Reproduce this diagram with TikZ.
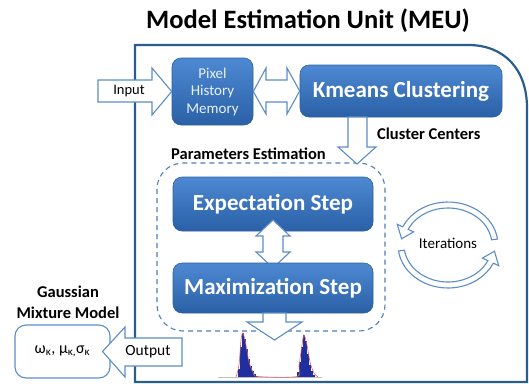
\documentclass[tikz,border=0pt]{standalone}
\usepackage{fontspec}
\setmainfont{Carlito}
\usetikzlibrary{calc}
\definecolor{frameblue}{HTML}{2B5C8E}
\definecolor{boxtop}{HTML}{4D89D2}
\definecolor{boxbot}{HTML}{2A60A6}
\definecolor{boxedge}{HTML}{2E5F9C}
\definecolor{arrowedge}{HTML}{5B8DC9}
\definecolor{dashblue}{HTML}{4D7FB8}
\definecolor{histblue}{HTML}{1E2FA0}
\definecolor{histred}{HTML}{E06070}
\begin{document}
\begin{tikzpicture}[x=1pt,y=-1pt,
  bluebox/.style={draw=boxedge, line width=0.6pt, rounded corners=9pt, top color=boxtop, bottom color=boxbot, text=white, align=center, inner sep=0pt},
  bigtxt/.style={font=\bfseries\fontsize{23}{27}\selectfont},
  barrow/.style={draw=arrowedge, fill=white, line width=1.1pt, line join=miter},
  lbl/.style={font=\bfseries\fontsize{16.5}{21}\selectfont, text=black, inner sep=0pt},
  frame/.style={draw=frameblue, line width=2.2pt}]
\useasboundingbox (0,0) rectangle (529,383);
% title
\node[font=\bfseries\fontsize{26.5}{30}\selectfont, inner sep=0pt] (title) at (308,21) {Model Estimation Unit (MEU)};
% frame
\draw[frame] (135,382) -- (135,45) -- (468,45) .. controls (505,45) and (527,70) .. (527,108) -- (527,382) -- cycle;
% boxes
\node[bluebox, minimum width=81pt, minimum height=67pt, font=\fontsize{15}{17.5}\selectfont, text=white!88!boxtop] (pix) at (212.5,91.5) {Pixel\\History\\Memory};
\node[bluebox, bigtxt, minimum width=202pt, minimum height=52pt] (km) at (401,91) {Kmeans Clustering};
% dashed parameters box
\draw[dashblue, line width=1.1pt, dash pattern=on 5pt off 4pt, rounded corners=26pt] (157,163) rectangle (385,331);
\node[lbl, anchor=west] (pelbl) at (171,154) {Parameters Estimation};
\node[bluebox, bigtxt, minimum width=200pt, minimum height=54pt] (es) at (273,204) {Expectation Step};
% E <-> M double arrow
\draw[barrow] (273,220) -- (290,236) -- (283,236) -- (283,252) -- (290,252) -- (273,268) -- (256,252) -- (263,252) -- (263,236) -- (256,236) -- cycle;
\node[bluebox, bigtxt, minimum width=200pt, minimum height=50pt] (ms) at (273,288) {Maximization Step};
% input arrow
\draw[barrow] (98,80) -- (152,80) -- (152,68) -- (pix.west) -- (152,115) -- (152,102) -- (98,102) -- cycle;
\node[font=\fontsize{14.5}{17}\selectfont, inner sep=0pt] (inlbl) at (129,91) {Input};
% double arrow pix <-> km
\draw[barrow] (pix.east) -- (266,68) -- (266,80) -- (287,80) -- (287,68) -- (km.west) -- (287,114) -- (287,102) -- (266,102) -- (266,114) -- cycle;
% cluster centers arrow
\draw[barrow] (348,117) -- (367,117) -- (367,147) -- (376,147) -- (357,164) -- (338,147) -- (348,147) -- cycle;
\node[lbl, anchor=west] (cclbl) at (377,134) {Cluster Centers};
% output of M step
\draw[barrow] (263,313) -- (286,313) -- (286,322) -- (302,322) -- (274.5,340) -- (247,322) -- (263,322) -- cycle;
% histogram
\draw[black!25, line width=0.8pt] (218,377.5) -- (322,377.5);
\foreach \x/\h in {238/8,240/30,242/44,244/38,246/28,248/18,250/11,252/6,254/3,256/1.5}
  \fill[histblue] (\x,377) rectangle ++(2,-\h);
\foreach \x/\h in {297/5,299/15,301/30,303/42,305/36,307/23,309/12,311/6,313/2.5}
  \fill[histblue] (\x,377) rectangle ++(2,-\h);
\draw[histred, line width=0.6pt] plot[smooth] coordinates {(236,377) (239,365) (241,340) (243,333) (246,345) (249,362) (253,372) (258,376.5) (297,376.5)(299,366) (302,345) (304,335) (307,345) (310,362) (314,373) (318,377)};
% iterations
\begin{scope}[shift={(448,245)}]
\draw[barrow] (-8:50 and 43) arc[start angle=-8, end angle=-155, x radius=50, y radius=43] -- (-155:56 and 49) -- (-171:47 and 40) -- (-155:38 and 31) -- (-155:44 and 37) arc[start angle=-155, end angle=-8, x radius=44, y radius=37] -- cycle;
\draw[barrow] (-188:50 and 43) arc[start angle=-188, end angle=-335, x radius=50, y radius=43] -- (-335:56 and 49) -- (-351:47 and 40) -- (-335:38 and 31) -- (-335:44 and 37) arc[start angle=-335, end angle=-188, x radius=44, y radius=37] -- cycle;
\node[font=\fontsize{15}{17}\selectfont, inner sep=0pt] (iter) at (0,-2) {Iterations};
\end{scope}
% gaussian mixture model
\node[lbl, align=center, font=\bfseries\fontsize{16.5}{21}\selectfont] (gmmlbl) at (68,302) {Gaussian\\Mixture Model};
\node[draw=arrowedge, line width=1.1pt, rounded corners=11pt, fill=white, minimum width=95pt, minimum height=53pt, font=\fontsize{16}{20}\selectfont, inner sep=0pt] (gmm) at (62.5,351.5) {ω\textsubscript{κ}, μ\textsubscript{κ,}σ\textsubscript{κ}};
% output arrow
\draw[barrow] (gmm.east) ++(-8,0) coordinate (otip) -- (125,327) -- (125,338) -- (182,338) -- (182,366) -- (125,366) -- (125,377) -- cycle;
\node[font=\fontsize{15.5}{18}\selectfont, inner sep=0pt] (outlbl) at (148,352) {Output};
\end{tikzpicture}
\end{document}
